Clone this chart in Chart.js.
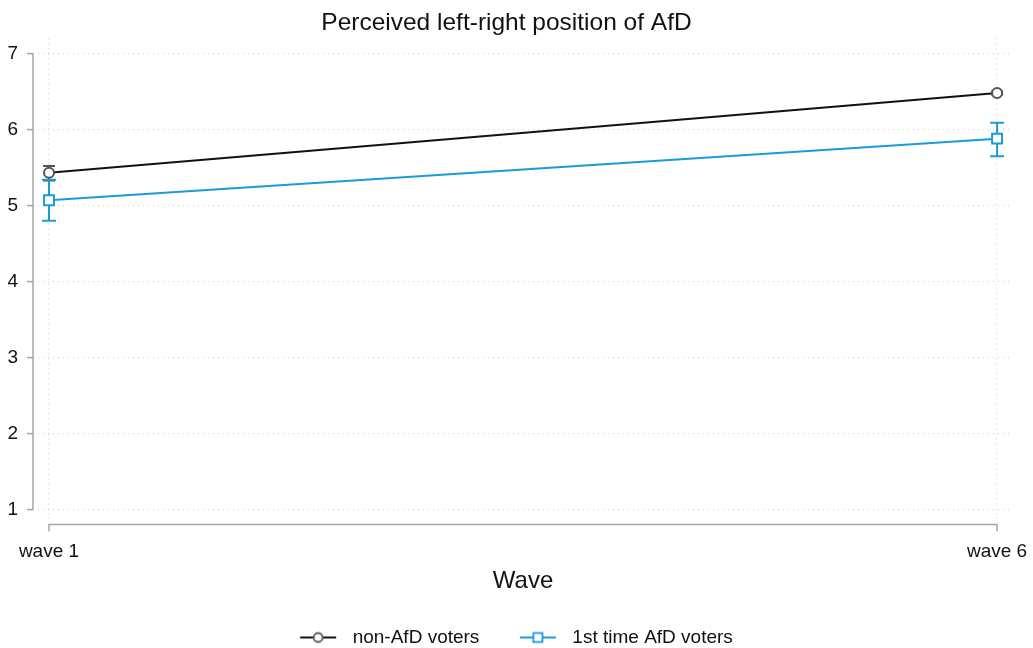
<!DOCTYPE html>
<html>
<head>
<meta charset="utf-8">
<script src="https://cdn.jsdelivr.net/npm/chart.js@4.4.1/dist/chart.umd.min.js"></script>
<style>
  html, body { margin: 0; padding: 0; background: #fff; }
  #wrap { width: 1033px; height: 648px; }
</style>
</head>
<body>
<div id="wrap"><canvas id="chart" width="1033" height="648"></canvas></div>
<script>
// data
const waves = [1, 6];
const waveLabels = ["wave 1", "wave 6"];
const yTicks = [1, 2, 3, 4, 5, 6, 7];

const nonAfdMean = [5.43, 6.48];
const nonAfdLow = [5.33, 6.46];
const nonAfdHigh = [5.52, 6.50];

const firstAfdMean = [5.07, 5.88];
const firstAfdLow = [4.80, 5.65];
const firstAfdHigh = [5.34, 6.09];

const BLACK = "#111111";
const GREY_MARK = "#555555";
const BLUE = "#1a9cd8";
const AXIS = "#a6a6a6";
const GRID = "#d4d4d4";
const FONT = "'Liberation Sans', Arial, sans-serif";

// legend symbol: line with marker; blank space on the left widens the gap between items
function legendIcon(color, markColor, shape) {
  const c = document.createElement("canvas");
  c.width = 63; c.height = 14;
  const g = c.getContext("2d");
  const l = 20, r = 56, mid = (l + r) / 2;
  g.strokeStyle = color; g.lineWidth = 2;
  g.beginPath(); g.moveTo(l, 7); g.lineTo(r, 7); g.stroke();
  g.fillStyle = "#fff";
  g.strokeStyle = markColor; g.lineWidth = 1.8;
  if (shape === "circle") {
    g.beginPath(); g.arc(mid, 7, 4.5, 0, Math.PI * 2); g.fill(); g.stroke();
  } else {
    g.fillRect(mid - 4.5, 2.5, 9, 9); g.strokeRect(mid - 4.5, 2.5, 9, 9);
  }
  return c;
}

const errorBars = {
  id: "errorBars",
  beforeDatasetsDraw(chart) {
    const { ctx, scales: { x, y } } = chart;
    const sets = [
      { low: nonAfdLow, high: nonAfdHigh, color: GREY_MARK, cap: 6 },
      { low: firstAfdLow, high: firstAfdHigh, color: BLUE, cap: 7 },
    ];
    ctx.save();
    sets.forEach((s) => {
      ctx.strokeStyle = s.color;
      ctx.lineWidth = 2;
      waves.forEach((w, i) => {
        const px = x.getPixelForValue(w);
        const y0 = y.getPixelForValue(s.low[i]);
        const y1 = y.getPixelForValue(s.high[i]);
        ctx.beginPath();
        ctx.moveTo(px, y0); ctx.lineTo(px, y1);
        ctx.moveTo(px - s.cap, y0); ctx.lineTo(px + s.cap, y0);
        ctx.moveTo(px - s.cap, y1); ctx.lineTo(px + s.cap, y1);
        ctx.stroke();
      });
    });
    ctx.restore();
  },
};

// stata-style detached axis lines
const stataAxes = {
  id: "stataAxes",
  afterDraw(chart) {
    const { ctx, chartArea, scales: { x, y } } = chart;
    ctx.save();
    ctx.strokeStyle = AXIS;
    ctx.lineWidth = 1.5;
    ctx.beginPath();
    const ax = chartArea.left;
    ctx.moveTo(ax, y.getPixelForValue(yTicks[0]));
    ctx.lineTo(ax, y.getPixelForValue(yTicks[yTicks.length - 1]));
    const ay = chartArea.bottom + 6;
    const x0 = x.getPixelForValue(waves[0]);
    const x1 = x.getPixelForValue(waves[waves.length - 1]);
    ctx.moveTo(x0, ay + 7); ctx.lineTo(x0, ay); ctx.lineTo(x1, ay); ctx.lineTo(x1, ay + 7);
    ctx.stroke();
    ctx.restore();
  },
};

new Chart(document.getElementById("chart"), {
  type: "line",
  data: {
    datasets: [
      {
        label: "non-AfD voters",
        data: waves.map((w, i) => ({ x: w, y: nonAfdMean[i] })),
        borderColor: BLACK,
        borderWidth: 2,
        pointStyle: "circle",
        pointRadius: 5,
        pointBorderWidth: 2,
        pointBorderColor: GREY_MARK,
        pointBackgroundColor: "#fff",
        legendIcon: legendIcon(BLACK, GREY_MARK, "circle"),
      },
      {
        label: "1st time AfD voters",
        data: waves.map((w, i) => ({ x: w, y: firstAfdMean[i] })),
        borderColor: BLUE,
        borderWidth: 2,
        pointStyle: "rect",
        pointRadius: 7,
        pointBorderWidth: 2,
        pointBorderColor: BLUE,
        pointBackgroundColor: "#fff",
        legendIcon: legendIcon(BLUE, BLUE, "rect"),
      },
    ],
  },
  options: {
    responsive: false,
    animation: false,
    devicePixelRatio: 1,
    layout: { padding: { left: 0, right: 20, top: 0, bottom: -9 } },
    plugins: {
      title: {
        display: true,
        text: "Perceived left-right position of AfD",
        color: BLACK,
        font: { family: FONT, size: 24.5, weight: "normal" },
        padding: { top: 9, bottom: 0 },
      },
      legend: {
        position: "bottom",
        labels: {
          color: BLACK,
          font: { family: FONT, size: 19 },
          usePointStyle: true,
          pointStyleWidth: 63,
          padding: 20.5,
          generateLabels(chart) {
            return chart.data.datasets.map((ds, i) => ({
              text: ds.label,
              pointStyle: ds.legendIcon,
              fillStyle: "#fff",
              strokeStyle: ds.borderColor,
              lineWidth: 0,
              fontColor: BLACK,
              datasetIndex: i,
            }));
          },
        },
      },
      tooltip: { enabled: false },
    },
    scales: {
      x: {
        type: "linear",
        min: 0.9156,
        max: 6.084,
        afterBuildTicks(s) { s.ticks = waves.map((v) => ({ value: v })); },
        afterFit(s) { s.paddingLeft = 0; s.paddingRight = 0; s.height = 89; },
        ticks: {
          color: BLACK,
          font: { family: FONT, size: 19 },
          padding: 22,
          maxRotation: 0,
          callback: (v) => waveLabels[waves.indexOf(v)],
        },
        grid: { color: GRID, lineWidth: 1.2, drawTicks: false },
        border: { display: false, dash: [1, 4] },
        title: {
          display: true,
          text: "Wave",
          color: BLACK,
          font: { family: FONT, size: 24 },
          padding: { top: 0, bottom: 11.6 },
        },
      },
      y: {
        min: 0.88,
        max: 7.2,
        afterBuildTicks(s) { s.ticks = yTicks.map((v) => ({ value: v })); },
        afterFit(s) { s.width = 33; },
        ticks: {
          color: BLACK,
          font: { family: FONT, size: 19 },
          padding: 9,
        },
        grid: {
          color: GRID,
          lineWidth: 1.2,
          tickColor: AXIS,
          tickLength: 6,
          tickWidth: 1.5,
          tickBorderDash: [],
        },
        border: { display: false, dash: [1, 4] },
      },
    },
  },
  plugins: [errorBars, stataAxes],
});
</script>
</body>
</html>
